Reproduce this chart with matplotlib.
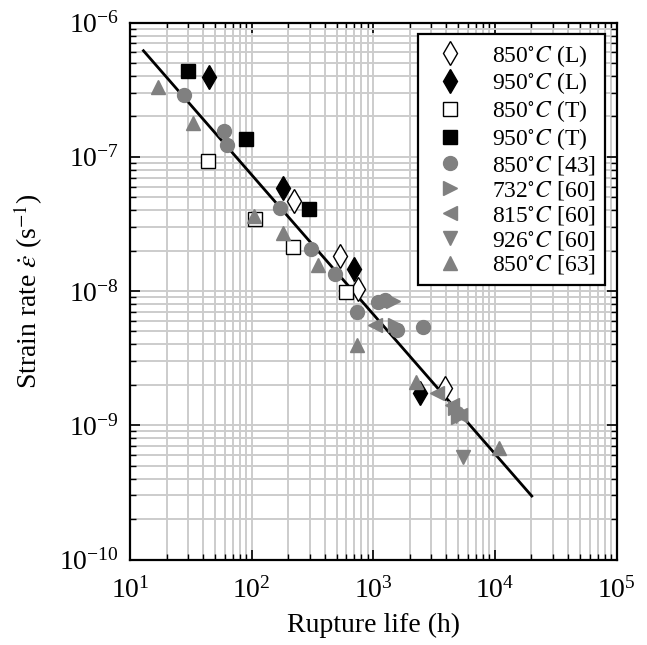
import numpy as np
import matplotlib
matplotlib.use('Agg')
import matplotlib.pyplot as plt
from matplotlib.ticker import NullFormatter

plt.rcParams['font.family'] = ['Liberation Serif', 'DejaVu Serif']
plt.rcParams['mathtext.fontset'] = 'stix'

# rupture life (h) and strain rate (1/s) per series
life_850L = [224, 533, 754, 3890]
rate_850L = [4.72e-8, 1.82e-8, 1.03e-8, 1.89e-9]

life_950L = [44.9, 180, 695, 2404]
rate_950L = [3.95e-7, 5.88e-8, 1.46e-8, 1.75e-9]

life_850T = [44.1, 107, 217, 592]
rate_850T = [9.29e-8, 3.44e-8, 2.13e-8, 9.75e-9]

life_950T = [29.9, 89.3, 298]
rate_950T = [4.37e-7, 1.36e-7, 4.10e-8]

life_850_43 = [28.0, 59.6, 62.4, 171, 308, 485, 731, 1102, 1250, 1560, 2582]
rate_850_43 = [2.88e-7, 1.56e-7, 1.23e-7, 4.15e-8, 2.07e-8, 1.35e-8, 7.02e-9,
               8.32e-9, 8.57e-9, 5.12e-9, 5.39e-9]

life_732_60 = [1455, 1510, 4710, 4980]
rate_732_60 = [8.47e-9, 5.58e-9, 1.34e-9, 1.15e-9]

life_815_60 = [1035, 3327, 4450, 5173]
rate_815_60 = [5.58e-9, 1.73e-9, 1.42e-9, 1.20e-9]

life_926_60 = [5508, 4800]
rate_926_60 = [5.83e-10, 1.17e-9]

life_850_63 = [17.1, 33.2, 105, 180, 354, 736, 2228, 10890]
rate_850_63 = [3.33e-7, 1.77e-7, 3.62e-8, 2.69e-8, 1.56e-8, 3.96e-9, 2.11e-9, 6.73e-10]

# fitted line end points
fit_life = [12.9, 20100]
fit_rate = [6.16e-7, 2.97e-10]

GRAY = '#808080'

fig = plt.figure(figsize=(6.47, 6.45), dpi=100)
ax = fig.add_axes([130 / 647, 1 - 559.5 / 645, 486.5 / 647, 537 / 645])
ax.set_xscale('log')
ax.set_yscale('log')
ax.set_axisbelow(True)

ax.plot(fit_life, fit_rate, color='black', lw=2.0, zorder=2)

series = [
    (life_850L, rate_850L, 'd', 'white', 'black', 12, r'850$^{\circ}C$ (L)'),
    (life_950L, rate_950L, 'd', 'black', 'black', 12, r'950$^{\circ}C$ (L)'),
    (life_850T, rate_850T, 's', 'white', 'black', 10, r'850$^{\circ}C$ (T)'),
    (life_950T, rate_950T, 's', 'black', 'black', 10, r'950$^{\circ}C$ (T)'),
    (life_850_43, rate_850_43, 'o', GRAY, GRAY, 10, r'850$^{\circ}C$ [43]'),
    (life_732_60, rate_732_60, '>', GRAY, GRAY, 10, r'732$^{\circ}C$ [60]'),
    (life_815_60, rate_815_60, '<', GRAY, GRAY, 10, r'815$^{\circ}C$ [60]'),
    (life_926_60, rate_926_60, 'v', GRAY, GRAY, 10, r'926$^{\circ}C$ [60]'),
    (life_850_63, rate_850_63, '^', GRAY, GRAY, 10, r'850$^{\circ}C$ [63]'),
]
for x, y, m, fc, ec, ms, lab in series:
    ax.plot(x, y, linestyle='none', marker=m, markerfacecolor=fc,
            markeredgecolor=ec, markeredgewidth=1.0, markersize=ms,
            label=lab, zorder=3)

ax.set_xlim(10, 1e5)
ax.set_ylim(1e-10, 1e-6)
ax.xaxis.set_minor_formatter(NullFormatter())
ax.yaxis.set_minor_formatter(NullFormatter())

ax.grid(True, which='both', color='#cccccc', lw=1.4)
ax.tick_params(which='both', direction='in', top=True, right=True,
               labelsize=20, colors='black')
ax.tick_params(which='major', length=7, width=1.2)
ax.tick_params(which='minor', length=4, width=1.0)
ax.tick_params(axis='x', which='major', pad=13)
ax.tick_params(axis='y', which='major', pad=8)
for s in ax.spines.values():
    s.set_linewidth(1.6)

ax.set_xlabel('Rupture life (h)', fontsize=20, labelpad=6)
ax.set_ylabel(r'Strain rate $\dot{\varepsilon}$ (s$^{-1}$)', fontsize=20, labelpad=10)

leg = ax.legend(loc='upper right', fontsize=17, numpoints=1, fancybox=False,
                framealpha=1, edgecolor='black', labelspacing=0.08,
                handlelength=2.0, handletextpad=0.8, borderpad=0.35,
                borderaxespad=0.5)
leg.get_frame().set_linewidth(1.6)

fig.savefig('out.png', dpi=100)
